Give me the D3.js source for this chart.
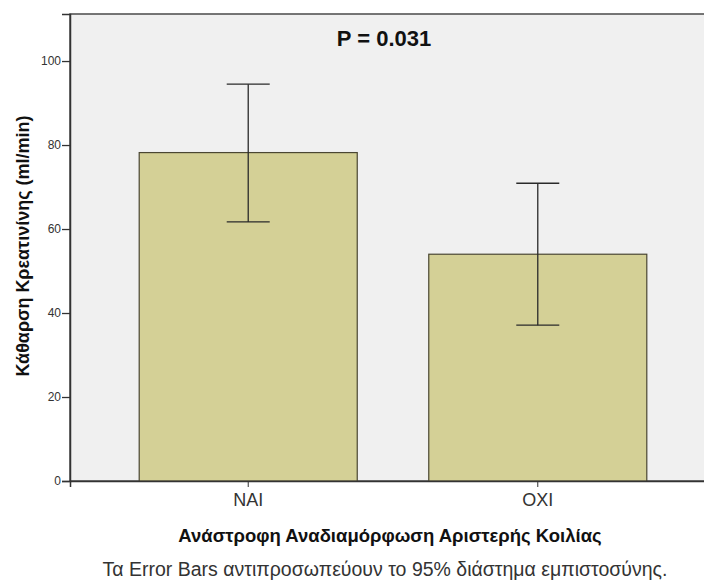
<!DOCTYPE html>
<html>
<head>
<meta charset="utf-8">
<script src="https://cdn.jsdelivr.net/npm/d3@7"></script>
<style>
  body { margin: 0; background: #fff; }
  svg text { font-family: "Liberation Sans", Arial, sans-serif; }
  .axis text { fill: #333; }
</style>
</head>
<body>
<div id="plot"></div>
<script>
const categories = ["NAI", "OXI"],
    means = [78.2, 54.0],
    ciLow = [61.7, 37.1],
    ciHigh = [94.5, 70.9],
    yTicks = [0, 20, 40, 60, 80, 100]

const w = 704, h = 581,
    margin = {top: 14, right: -12, bottom: 100, left: 70}

const x = d3.scaleBand()
    .domain(categories)
    .range([margin.left, w - margin.right])
    .paddingInner(0.247)
    .paddingOuter(0.239)

const y = d3.scaleLinear()
    .domain([0, 111.2])
    .range([h - margin.bottom, margin.top])

const svg = d3.select("#plot").append("svg")
    .attr("width", w)
    .attr("height", h)

// plot background + frame
svg.append("rect")
  .attr("x", margin.left)
  .attr("y", margin.top)
  .attr("width", w - margin.right - margin.left)
  .attr("height", y(0) - margin.top)
  .attr("fill", "#f0f0f0")
  .attr("stroke", "#4a4a4a")
  .attr("stroke-width", 1.5)

// bars
svg.selectAll(".bar")
  .data(categories)
  .join("rect")
  .attr("class", "bar")
  .attr("x", d => x(d))
  .attr("y", (d, i) => y(means[i]))
  .attr("width", x.bandwidth())
  .attr("height", (d, i) => y(0) - y(means[i]))
  .attr("fill", "#d4d096")
  .attr("stroke", "#4a4632")
  .attr("stroke-width", 1.2)

// error bars
const capW = 43
const eb = svg.selectAll(".err")
  .data(categories)
  .join("g")
  .attr("class", "err")
  .attr("stroke", "#2a2a2a")
  .attr("stroke-width", 1.3)

eb.append("line")
  .attr("x1", d => x(d) + x.bandwidth() / 2)
  .attr("x2", d => x(d) + x.bandwidth() / 2)
  .attr("y1", (d, i) => y(ciLow[i]))
  .attr("y2", (d, i) => y(ciHigh[i]))
eb.append("line")
  .attr("x1", d => x(d) + x.bandwidth() / 2 - capW / 2)
  .attr("x2", d => x(d) + x.bandwidth() / 2 + capW / 2)
  .attr("y1", (d, i) => y(ciHigh[i]))
  .attr("y2", (d, i) => y(ciHigh[i]))
eb.append("line")
  .attr("x1", d => x(d) + x.bandwidth() / 2 - capW / 2)
  .attr("x2", d => x(d) + x.bandwidth() / 2 + capW / 2)
  .attr("y1", (d, i) => y(ciLow[i]))
  .attr("y2", (d, i) => y(ciLow[i]))

// y axis
const yAxis = svg.append("g")
  .attr("class", "axis")
  .attr("transform", `translate(${margin.left}, 0)`)
  .call(d3.axisLeft(y).tickValues(yTicks).tickSize(8).tickPadding(1))
yAxis.select(".domain").attr("stroke", "#333").attr("stroke-width", 1.5)
yAxis.selectAll(".tick line").attr("stroke", "#333").attr("stroke-width", 1.3)
yAxis.selectAll("text").style("font-size", "12px")

// x axis
const xAxis = svg.append("g")
  .attr("class", "axis")
  .attr("transform", `translate(0, ${y(0)})`)
  .call(d3.axisBottom(x).tickSize(6).tickPadding(6))
xAxis.select(".domain").attr("stroke", "#333").attr("stroke-width", 1.5)
xAxis.selectAll(".tick line").attr("stroke", "#333")
xAxis.selectAll("text").style("font-size", "18px").attr("fill", "#444")

// P-value
svg.append("text")
  .attr("x", 384)
  .attr("y", 46)
  .attr("text-anchor", "middle")
  .style("font-size", "22px")
  .style("font-weight", "bold")
  .attr("fill", "#111")
  .text("P = 0.031")

// y title
svg.append("text")
  .attr("transform", "rotate(-90)")
  .attr("x", -246)
  .attr("y", 29)
  .attr("text-anchor", "middle")
  .style("font-size", "18px")
  .style("font-weight", "bold")
  .attr("fill", "#111")
  .text("Κάθαρση Κρεατινίνης (ml/min)")

// x title
svg.append("text")
  .attr("x", 390)
  .attr("y", 542)
  .attr("text-anchor", "middle")
  .style("font-size", "18.5px")
  .style("font-weight", "bold")
  .attr("fill", "#111")
  .text("Ανάστροφη Αναδιαμόρφωση Αριστερής Κοιλίας")

// footnote
svg.append("text")
  .attr("x", 385)
  .attr("y", 576)
  .attr("text-anchor", "middle")
  .style("font-size", "19.5px")
  .attr("fill", "#333")
  .text("Τα Error Bars αντιπροσωπεύουν το 95% διάστημα εμπιστοσύνης.")
</script>
</body>
</html>
